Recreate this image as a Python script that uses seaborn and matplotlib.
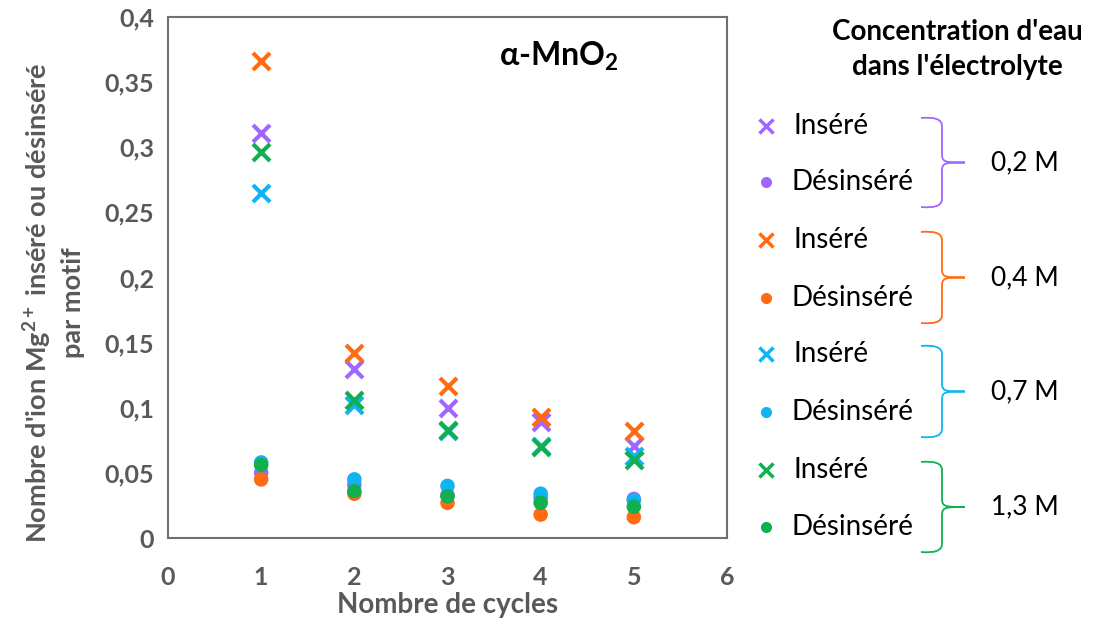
import numpy as np
import pandas as pd
import matplotlib
matplotlib.use("Agg")
import matplotlib.pyplot as plt
import seaborn as sns
from matplotlib.path import Path
from matplotlib.patches import PathPatch
from matplotlib.ticker import FixedLocator, FuncFormatter

# ---------------- data ----------------
cycles = [1, 2, 3, 4, 5]
concentrations = ["0,2 M", "0,4 M", "0,7 M", "1,3 M"]
colors = ["#A066FF", "#FF6A13", "#10B4F0", "#10B050"]

insere_02 = [0.311, 0.130, 0.100, 0.089, 0.071]
desinsere_02 = [0.050, 0.041, 0.033, 0.031, 0.030]
insere_04 = [0.366, 0.142, 0.117, 0.093, 0.082]
desinsere_04 = [0.045, 0.034, 0.027, 0.018, 0.016]
insere_07 = [0.265, 0.102, 0.082, 0.071, 0.063]
desinsere_07 = [0.058, 0.045, 0.040, 0.034, 0.029]
insere_13 = [0.296, 0.106, 0.083, 0.070, 0.060]
desinsere_13 = [0.056, 0.036, 0.032, 0.027, 0.024]

insere = [insere_02, insere_04, insere_07, insere_13]
desinsere = [desinsere_02, desinsere_04, desinsere_07, desinsere_13]

yticks = [0, 0.05, 0.1, 0.15, 0.2, 0.25, 0.3, 0.35, 0.4]
xticks = [0, 1, 2, 3, 4, 5, 6]

# ---------------- style ----------------
sns.set_theme(style="white")
FONT = "Lato"
plt.rcParams["font.family"] = [FONT, "DejaVu Sans"]
plt.rcParams["mathtext.fontset"] = "custom"
plt.rcParams["mathtext.rm"] = FONT + ":bold"
plt.rcParams["mathtext.it"] = FONT + ":bold"
plt.rcParams["mathtext.bf"] = FONT + ":bold"
plt.rcParams["mathtext.default"] = "rm"

W, H = 1094, 624
fig = plt.figure(figsize=(W / 100, H / 100), dpi=100)
ax = fig.add_axes([168 / W, 1 - 538 / H, (727 - 168) / W, (538 - 17) / H])

grey = "#595959"

for i, c in enumerate(concentrations):
    df_i = pd.DataFrame({"cycle": cycles, "val": insere[i]})
    df_d = pd.DataFrame({"cycle": cycles, "val": desinsere[i]})
    sns.scatterplot(data=df_i, x="cycle", y="val", marker="x", s=150,
                    color=colors[i], linewidth=3, ax=ax, zorder=3)
    sns.scatterplot(data=df_d, x="cycle", y="val", marker="o", s=110,
                    color=colors[i], edgecolor="none", ax=ax, zorder=3)

ax.set_xlim(0, 6)
ax.set_ylim(0, 0.4)
ax.xaxis.set_major_locator(FixedLocator(xticks))
ax.yaxis.set_major_locator(FixedLocator(yticks))
fmt = FuncFormatter(lambda v, p: ("%g" % round(v, 3)).replace(".", ","))
ax.xaxis.set_major_formatter(fmt)
ax.yaxis.set_major_formatter(fmt)
ax.tick_params(axis="both", direction="in", length=9, width=1.5, color=grey,
               labelsize=18, labelcolor=grey, pad=10)
ax.tick_params(axis="x", pad=20)
for lab in ax.get_xticklabels() + ax.get_yticklabels():
    lab.set_fontweight("bold")
for sp in ax.spines.values():
    sp.set_color("#707070")
    sp.set_linewidth(1.5)
ax.set_xlabel("Nombre de cycles", fontsize=20, fontweight="bold", color=grey, labelpad=2)
ax.set_ylabel("Nombre d'ion Mg$^{2+}$ inséré ou désinséré\npar motif",
              fontsize=19.5, fontweight="bold", color=grey, linespacing=1.35)
ax.yaxis.set_label_coords(-0.148, 0.452)
ax.text(0.70, 0.925, "α-MnO$_2$", transform=ax.transAxes, fontsize=23,
        fontweight="bold", color="black", ha="center", va="center")

# ---------------- custom legend ----------------
def fy(py):
    return 1 - py / H

def fx(px):
    return px / W

fig.text(fx(957), fy(32), "Concentration d'eau", fontsize=20, fontweight="bold",
         ha="center", va="center", color="black")
fig.text(fx(957), fy(67), "dans l'électrolyte", fontsize=20, fontweight="bold",
         ha="center", va="center", color="black")

row_y = [126, 182, 240, 298, 354, 412, 470, 527]
for i, c in enumerate(concentrations):
    yi, yd = row_y[2 * i], row_y[2 * i + 1]
    fig.lines.append(plt.Line2D([fx(766)], [fy(yi)], marker="x", markersize=10,
                                markeredgewidth=2.5, color=colors[i],
                                transform=fig.transFigure, linestyle="none"))
    fig.lines.append(plt.Line2D([fx(766)], [fy(yd)], marker="o", markersize=8,
                                markeredgewidth=0, color=colors[i],
                                transform=fig.transFigure, linestyle="none"))
    fig.text(fx(794), fy(yi), "Inséré", fontsize=20, ha="left", va="center", color="black")
    fig.text(fx(791), fy(yd), "Désinséré", fontsize=20, ha="left", va="center", color="black")
    # brace
    top, bot = yi - 8, yd + 25
    mid = (top + bot) / 2
    xl, xv, xt = 921, 942, 965
    verts = [(xl, top), (xv, top - 2), (xv, top + 8),
             (xv, mid - 8),
             (xv, mid), (xv + 4, mid), (xt, mid),
             (xv + 4, mid), (xv, mid), (xv, mid + 8),
             (xv, bot - 8),
             (xv, bot + 2), (xl, bot)]
    codes = [Path.MOVETO, Path.CURVE3, Path.CURVE3,
             Path.LINETO,
             Path.CURVE4, Path.CURVE4, Path.CURVE4,
             Path.CURVE4, Path.CURVE4, Path.CURVE4,
             Path.LINETO,
             Path.CURVE3, Path.CURVE3]
    verts_f = [(fx(x), fy(y)) for x, y in verts]
    patch = PathPatch(Path(verts_f, codes), facecolor="none", edgecolor=colors[i],
                      linewidth=1.3, transform=fig.transFigure)
    fig.patches.append(patch)
    fig.text(fx(1025), fy(mid), c, fontsize=19, ha="center", va="center", color="black")

fig.savefig("out.png", dpi=100, facecolor="white")
